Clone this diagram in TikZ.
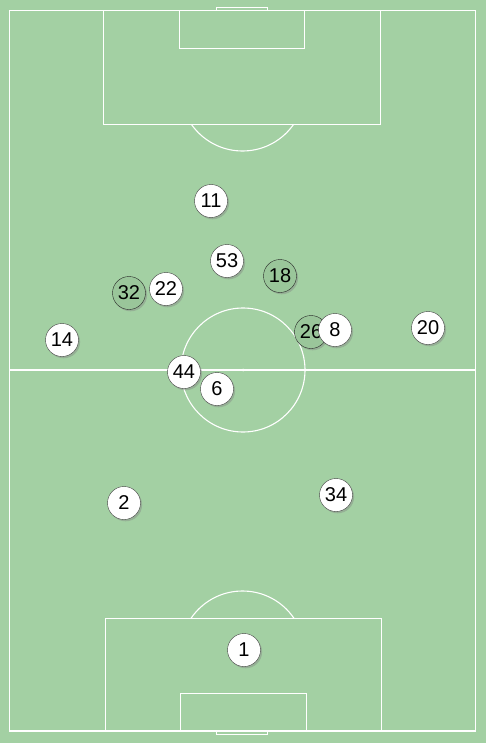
\documentclass[tikz,border=0pt]{standalone}
\usepackage{fontspec}
\setmainfont{Liberation Sans}
\usepackage{tikz}
\usetikzlibrary{shadows}

\definecolor{grass}{RGB}{163,208,163}
\definecolor{ghost}{RGB}{154,198,154}

\begin{document}
\begin{tikzpicture}[
    x=1pt, y=-1pt,
    line/.style={draw=white, line width=1.1pt},
    player/.style={circle, draw=black!75, fill=white, thin, minimum size=33pt, inner sep=0pt,
        font=\fontsize{20}{20}\selectfont,
        drop shadow={shadow xshift=1.6pt, shadow yshift=-1.8pt, opacity=0.4}},
    away/.style={player, fill=ghost, draw=black!85}
]

% Grass
\fill[grass] (0,0) rectangle (486,743);
\useasboundingbox (0,0) rectangle (486,743);

% Pitch
\draw[line] (9.5,10.5) rectangle (475.5,731);
\draw[line] (9.5,370) -- (475.5,370);
\draw[line] (243,370) circle[radius=62];
\fill[white] (243,370) circle[radius=1.5];

% Top end
\draw[line] (103.5,10.5) rectangle (380.5,124.5);
\draw[line] (179.5,10.5) rectangle (304.5,48.5);
\draw[line] (216.5,7.5) rectangle (267.5,10.5);
\begin{scope}
  \clip (0,125) rectangle (486,200);
  \draw[line] (242.5,88.7) circle[radius=62.3];
\end{scope}

% Bottom end
\draw[line] (105.3,618.3) rectangle (381.3,731);
\draw[line] (180.3,693.3) rectangle (306.3,731);
\draw[line] (216.5,731) rectangle (267.5,734.3);
\begin{scope}
  \clip (0,540) rectangle (486,617.8);
  \draw[line] (242.5,653.2) circle[radius=62.2];
\end{scope}

% Opponents
\node[away] (p32) at (129,293) {32};
\node[away] (p18) at (280,276) {18};
\node[away] (p26) at (311,332) {26};

% Players
\node[player] (p11) at (211,201) {11};
\node[player] (p53) at (227,261) {53};
\node[player] (p22) at (166,289) {22};
\node[player] (p14) at (62,340) {14};
\node[player] (p8) at (335,330) {8};
\node[player] (p20) at (428,328) {20};
\node[player] (p44) at (184,372) {44};
\node[player] (p6) at (217,389) {6};
\node[player] (p2) at (124,503) {2};
\node[player] (p34) at (336,495) {34};
\node[player] (p1) at (244,650) {1};

\end{tikzpicture}
\end{document}
